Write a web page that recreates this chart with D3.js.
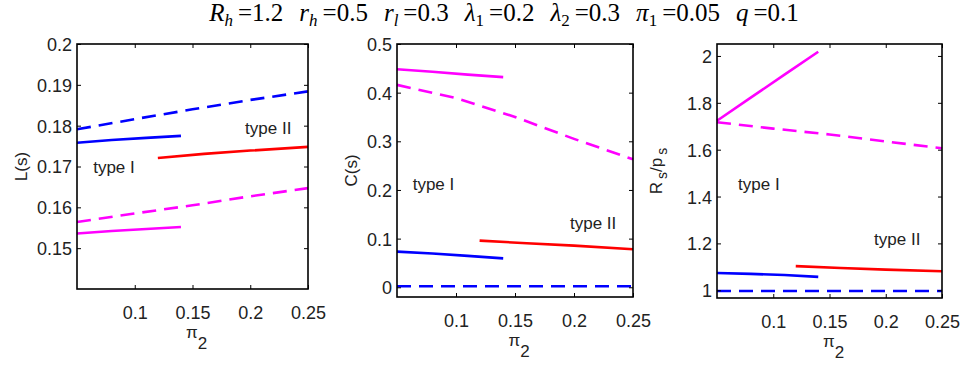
<!DOCTYPE html>
<html><head><meta charset="utf-8">
<script src="https://cdn.jsdelivr.net/npm/d3@7"></script>
<style>
body{margin:0;background:#fff;}
svg{display:block;}
.tick text{font-family:"Liberation Sans",Arial,sans-serif;font-size:18px;fill:#222;}
</style></head>
<body>
<svg id="c" width="964" height="366"></svg>
<script>
// ---------- data ----------
const xTicks = [0.1, 0.15, 0.2, 0.25];
const xDomain = [0.05, 0.25];

const xTypeI = [0.05, 0.08, 0.11, 0.14];
const xFull = [0.05, 0.1, 0.15, 0.2, 0.25];
const xTypeII = [0.12, 0.16, 0.2, 0.25];

// Panel 1: L(s)
const L_blueSolid = [0.1758, 0.1765, 0.1770, 0.1775];
const L_magSolid = [0.1536, 0.1542, 0.1547, 0.1552];
const L_blueDash = [0.1791, 0.1816, 0.1840, 0.1863, 0.1884];
const L_magDash = [0.1564, 0.1585, 0.1605, 0.1627, 0.1647];
const L_red = [0.1721, 0.1731, 0.1739, 0.1748];
const L_yTicks = [0.15, 0.16, 0.17, 0.18, 0.19, 0.2];

// Panel 2: C(s)
const C_blueSolid = [0.0732, 0.0695, 0.0645, 0.0594];
const C_magSolid = [0.448, 0.443, 0.437, 0.432];
const C_blueDash = [0.002, 0.002, 0.002, 0.002, 0.002];
const C_magDash = [0.416, 0.389, 0.350, 0.305, 0.263];
const C_red = [0.0959, 0.0905, 0.0855, 0.078];
const C_yTicks = [0, 0.1, 0.2, 0.3, 0.4, 0.5];

// Panel 3: R_s/p_s
const R_blueSolid = [1.074, 1.070, 1.065, 1.057];
const R_magSolid = [1.7235, 1.822, 1.920, 2.018];
const R_blueDash = [0.997, 0.997, 0.997, 0.997, 0.997];
const R_magDash = [1.717, 1.690, 1.665, 1.635, 1.606];
const R_red = [1.103, 1.095, 1.088, 1.081];
const R_yTicks = [1, 1.2, 1.4, 1.6, 1.8, 2];

// annotation anchors (data coords)
const annL = [["type I", 0.064, 0.1684], ["type II", 0.1955, 0.1780]];
const annC = [["type I", 0.0633, 0.2004], ["type II", 0.1966, 0.120]];
const annR = [["type I", 0.0687, 1.427], ["type II", 0.1896, 1.192]];

const titleParams = [
  {s: "R", sub: "h", v: "1.2"}, {s: "r", sub: "h", v: "0.5"}, {s: "r", sub: "l", v: "0.3"},
  {s: "λ", sub: "1", v: "0.2"}, {s: "λ", sub: "2", v: "0.3"}, {s: "π", sub: "1", v: "0.05"},
  {s: "q", sub: "", v: "0.1"}
];

// ---------- drawing ----------
const svg = d3.select("#c");
const BLUE = "#0000ff", RED = "#ff0000", MAG = "#ff00ff";
const fmt = v => String(+v.toFixed(2));

function panel(cfg) {
  const x = d3.scaleLinear().domain(xDomain).range([cfg.l, cfg.r]);
  const y = d3.scaleLinear().domain(cfg.yDom).range([cfg.b, cfg.t]);
  const g = svg.append("g");
  const line = d3.line().x(d => x(d[0])).y(d => y(d[1]));

  const series = [
    {xs: xFull, ys: cfg.blueDash, c: BLUE, dash: true},
    {xs: xFull, ys: cfg.magDash, c: MAG, dash: true},
    {xs: xTypeI, ys: cfg.blueSolid, c: BLUE},
    {xs: xTypeI, ys: cfg.magSolid, c: MAG},
    {xs: xTypeII, ys: cfg.red, c: RED}
  ];
  series.forEach(s => {
    g.append("path").datum(s.xs.map((v, i) => [v, s.ys[i]]))
      .attr("d", line).attr("fill", "none").attr("stroke", s.c)
      .attr("stroke-width", 2.6)
      .attr("stroke-dasharray", s.dash ? "14,8" : null);
  });

  // axes with inward ticks
  const ax = (a) => a.tickSizeInner(-4).tickSizeOuter(0);
  const gb = g.append("g").attr("transform", `translate(0,${cfg.b})`)
    .call(ax(d3.axisBottom(x)).tickValues(xTicks).tickFormat(fmt).tickPadding(17));
  const gt = g.append("g").attr("transform", `translate(0,${cfg.t})`)
    .call(ax(d3.axisTop(x)).tickValues(xTicks).tickFormat(""));
  const gl = g.append("g").attr("transform", `translate(${cfg.l},0)`)
    .call(ax(d3.axisLeft(y)).tickValues(cfg.yTicks).tickFormat(fmt).tickPadding(5));
  const gr = g.append("g").attr("transform", `translate(${cfg.r},0)`)
    .call(ax(d3.axisRight(y)).tickValues(cfg.yTicks).tickFormat(""));
  [gb, gt, gl, gr].forEach(a => {
    a.select(".domain").remove();
    a.selectAll(".tick line").attr("stroke", "#000").attr("stroke-width", 1);
  });
  gl.selectAll(".tick text").attr("dy", "0.36em");

  g.append("rect").attr("x", cfg.l).attr("y", cfg.t)
    .attr("width", cfg.r - cfg.l).attr("height", cfg.b - cfg.t)
    .attr("fill", "none").attr("stroke", "#000").attr("stroke-width", 1.6);

  // annotations
  cfg.ann.forEach(a => {
    g.append("text").attr("x", x(a[1])).attr("y", y(a[2]))
      .attr("font-family", "Liberation Sans, Arial, sans-serif").attr("font-size", 17)
      .attr("fill", "#222").text(a[0]);
  });

  // x label pi_2
  const xl = g.append("text").attr("x", (cfg.l + cfg.r) / 2 + 4).attr("y", cfg.b + 49)
    .attr("text-anchor", "middle").attr("font-family", "Liberation Sans, Arial, sans-serif")
    .attr("font-size", 17).attr("fill", "#222");
  xl.append("tspan").text("π");
  xl.append("tspan").attr("dy", 11).text("2");

  // y label
  const yl = g.append("text")
    .attr("transform", `translate(${cfg.ylx},${(cfg.t + cfg.b) / 2}) rotate(-90)`)
    .attr("text-anchor", "middle").attr("font-family", "Liberation Sans, Arial, sans-serif")
    .attr("font-size", 17).attr("fill", "#222");
  cfg.ylab(yl);
}

panel({l: 77, r: 308, t: 44, b: 289, yDom: [0.14, 0.2], yTicks: L_yTicks,
  blueSolid: L_blueSolid, magSolid: L_magSolid, blueDash: L_blueDash, magDash: L_magDash, red: L_red,
  ann: annL, ylx: 27, ylab: t => t.text("L(s)")});
panel({l: 397, r: 633, t: 44, b: 297, yDom: [-0.02, 0.5], yTicks: C_yTicks,
  blueSolid: C_blueSolid, magSolid: C_magSolid, blueDash: C_blueDash, magDash: C_magDash, red: C_red,
  ann: annC, ylx: 357, ylab: t => t.text("C(s)")});
panel({l: 717, r: 942, t: 44, b: 298, yDom: [0.967, 2.051], yTicks: R_yTicks,
  blueSolid: R_blueSolid, magSolid: R_magSolid, blueDash: R_blueDash, magDash: R_magDash, red: R_red,
  ann: annR, ylx: 662, ylab: t => {
    t.append("tspan").text("R");
    t.append("tspan").attr("dx", 3).attr("dy", 5).attr("font-size", 14).text("s");
    t.append("tspan").attr("dy", -5).text("/p");
    t.append("tspan").attr("dx", 3).attr("dy", 5).attr("font-size", 14).text("s");
  }});

// title
const title = svg.append("text").attr("x", 504).attr("y", 21)
  .attr("text-anchor", "middle").attr("font-family", "Liberation Serif, Times New Roman, serif")
  .attr("font-size", 25).attr("fill", "#000").attr("xml:space", "preserve");
titleParams.forEach((p, i) => {
  title.append("tspan").attr("dx", i === 0 ? 0 : 16).attr("font-style", "italic").text(p.s);
  if (p.sub) {
    title.append("tspan").attr("dy", 5).attr("font-size", 17)
      .attr("font-style", /[0-9]/.test(p.sub) ? "normal" : "italic").text(p.sub);
    title.append("tspan").attr("dy", -5).attr("dx", 5).text("=" + p.v);
  } else {
    title.append("tspan").attr("dx", 5).text("=" + p.v);
  }
});
</script>
</body></html>
